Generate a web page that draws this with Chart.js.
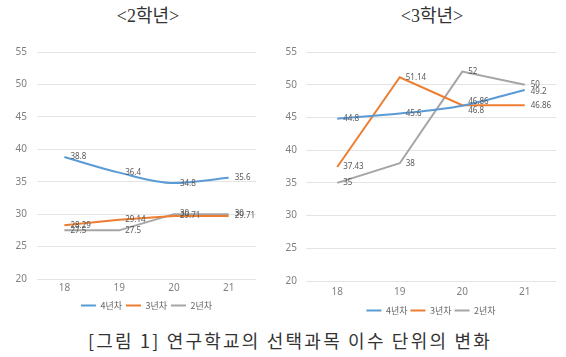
<!DOCTYPE html>
<html><head><meta charset="utf-8">
<script src="https://cdn.jsdelivr.net/npm/chart.js@4/dist/chart.umd.min.js"></script>
<style>
html,body{margin:0;padding:0;background:#fff;width:566px;height:357px;overflow:hidden;}
#wrap{position:relative;width:566px;height:357px;}
.title{position:absolute;top:5px;width:200px;text-align:center;font-family:"Liberation Serif","Noto Sans CJK KR",serif;font-size:18px;line-height:22px;color:#333;}
#c1{position:absolute;left:0;top:0;}
#c2{position:absolute;left:270px;top:0;}
#caption{position:absolute;left:0;top:329px;width:580px;text-align:center;font-family:"Noto Sans CJK KR",sans-serif;font-size:18px;line-height:22px;letter-spacing:2.2px;color:#333;}
</style></head>
<body><div id="wrap">
<div class="title" style="left:48px">&lt;2학년&gt;</div>
<div class="title" style="left:332px">&lt;3학년&gt;</div>
<canvas id="c1" width="270" height="320"></canvas>
<canvas id="c2" width="296" height="325"></canvas>
<div id="caption">[그림 1] 연구학교의 선택과목 이수 단위의 변화</div>
</div>
<script>
const years = ['18','19','20','21'];
const seriesNames = ['4년차','3년차','2년차'];
// 2학년
const g2_y4 = [38.8, 36.4, 34.8, 35.6];
const g2_y3 = [28.29, 29.14, 29.71, 29.71];
const g2_y2 = [27.5, 27.5, 30, 30];
// 3학년
const g3_y4 = [44.8, 45.6, 46.8, 49.2];
const g3_y3 = [37.43, 51.14, 46.86, 46.86];
const g3_y2 = [35, 38, 52, 50];

const colors = ['#5B9BD5','#ED7D31','#A5A5A5'];

const valueLabels = {
  id:'valueLabels',
  afterDatasetsDraw(chart, args, opts){
    const ctx = chart.ctx;
    ctx.save();
    ctx.font = '8px "Noto Sans", sans-serif';
    ctx.fillStyle = '#595959';
    ctx.textBaseline = 'middle';
    ctx.textAlign = 'left';
    chart.data.datasets.forEach((ds,i)=>{
      const meta = chart.getDatasetMeta(i);
      meta.data.forEach((pt,j)=>{
        const dy = (opts.dy && opts.dy[i] && opts.dy[i][j]) || 0;
        ctx.fillText(String(ds.data[j]), pt.x + 6, pt.y + dy);
      });
    });
    ctx.restore();
  }
};

function makeDatasets(a,b,c){
  return [a,b,c].map((d,i)=>({
    label: seriesNames[i],
    data: d,
    borderColor: colors[i],
    backgroundColor: colors[i],
    borderWidth: 2,
    pointRadius: 0,
    tension: 0,
    cubicInterpolationMode: i===0 ? 'monotone' : 'default'
  }));
}

function makeChart(id, data, cfg){
  return new Chart(document.getElementById(id), {
    type:'line',
    data:{labels: years, datasets: data},
    options:{
      responsive:false,
      animation:false,
      devicePixelRatio:1,
      layout:{padding:{top:cfg.top, right:cfg.right, left:0, bottom:0}},
      plugins:{
        legend:{
          position:'bottom',
          fullSize:false,
          labels:{
            usePointStyle:true,
            pointStyle:'line',
            pointStyleWidth:15,
            boxHeight:9,
            padding:cfg.legendPad,
            color:'#666',
            font:{size:9, family:'"Noto Sans CJK KR", sans-serif'}
          }
        },
        tooltip:{enabled:false},
        valueLabels:{dy: cfg.dy}
      },
      scales:{
        x:{
          offset:true,
          grid:{display:false, drawTicks:false},
          border:{display:false},
          ticks:{padding:cfg.xPad, color:'#808080', font:{size:10, family:'"Noto Sans", sans-serif'}}
        },
        y:{
          min:20, max:55,
          afterFit(s){ s.width = cfg.yWidth; },
          grid:{color:'#e4e4e4', drawTicks:false},
          border:{display:false},
          ticks:{stepSize:5, padding:cfg.yPad, color:'#808080', font:{size:10, family:'"Noto Sans", sans-serif'}}
        }
      }
    },
    plugins:[valueLabels]
  });
}

makeChart('c1', makeDatasets(g2_y4, g2_y3, g2_y2),
  {top:52, right:14, yWidth:37, yPad:10, xPad:3, legendPad:4, dy:{0:{2:1}}});
makeChart('c2', makeDatasets(g3_y4, g3_y3, g3_y2),
  {top:52, right:10, yWidth:36, yPad:9, xPad:5, legendPad:3, dy:{0:{2:5,3:2},1:{2:-4}}});
</script>
</body></html>
